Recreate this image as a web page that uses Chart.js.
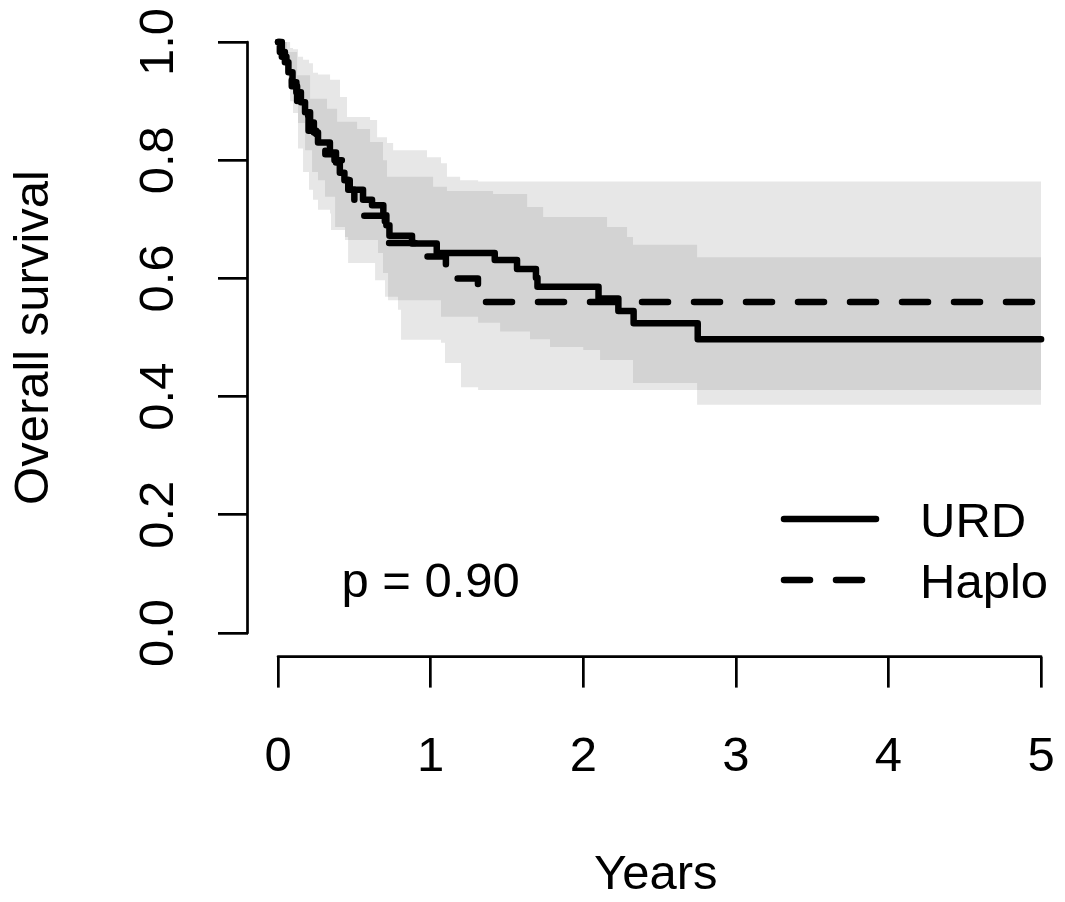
<!DOCTYPE html>
<html>
<head>
<meta charset="utf-8">
<title>Overall survival</title>
<script src="https://cdn.jsdelivr.net/npm/chart.js@4.4.1/dist/chart.umd.min.js"></script>
<style>
  html, body { margin: 0; padding: 0; background: #fff; overflow: hidden; }
</style>
</head>
<body>
<canvas id="survival" width="1065" height="902"></canvas>
<script>
// Kaplan-Meier estimates: time in years, survival after each step
const urdTime = [0, 0.012, 0.045, 0.068, 0.095, 0.12, 0.15, 0.177, 0.21, 0.235, 0.262, 0.34, 0.38, 0.405, 0.435, 0.47, 0.557, 0.616, 0.69, 0.71, 0.73, 0.878, 1.04, 1.42, 1.566, 1.69, 1.70, 2.10, 2.23, 2.33, 2.75, 5];
const urdSurv = [1, 0.983, 0.966, 0.949, 0.932, 0.915, 0.898, 0.881, 0.864, 0.847, 0.830, 0.813, 0.796, 0.779, 0.766, 0.750, 0.733, 0.724, 0.707, 0.690, 0.672, 0.659, 0.643, 0.631, 0.616, 0.601, 0.586, 0.566, 0.545, 0.524, 0.497, 0.497];

const haploTime = [0, 0.025, 0.055, 0.09, 0.125, 0.16, 0.20, 0.25, 0.31, 0.37, 0.42, 0.46, 0.50, 0.525, 0.70, 0.725, 0.915, 1.10, 1.31, 5];
const haploSurv = [1, 0.975, 0.95, 0.925, 0.90, 0.875, 0.85, 0.825, 0.81, 0.80, 0.775, 0.75, 0.728, 0.706, 0.683, 0.660, 0.637, 0.600, 0.560, 0.560];

// pointwise 95% confidence limits
const urdCiTime = [0, 0.013, 0.059, 0.066, 0.125, 0.131, 0.177, 0.210, 0.223, 0.262, 0.308, 0.321, 0.374, 0.387, 0.439, 0.518, 0.603, 0.655, 0.688, 0.714, 0.721, 1.016, 1.068, 1.107, 1.311, 1.409, 1.455, 1.632, 1.651, 1.737, 1.782, 2.0, 2.110, 2.156, 2.287, 2.326, 2.746, 5];
const urdUpper = [1, 1, 0.983, 0.983, 0.944, 0.944, 0.944, 0.904, 0.904, 0.904, 0.904, 0.887, 0.887, 0.865, 0.865, 0.853, 0.831, 0.831, 0.80, 0.772, 0.772, 0.755, 0.755, 0.748, 0.748, 0.743, 0.743, 0.721, 0.721, 0.704, 0.704, 0.704, 0.704, 0.687, 0.670, 0.657, 0.636, 0.636];
const urdLower = [1, 0.98, 0.98, 0.93, 0.93, 0.863, 0.817, 0.817, 0.78, 0.766, 0.738, 0.738, 0.687, 0.687, 0.665, 0.665, 0.665, 0.643, 0.609, 0.609, 0.563, 0.563, 0.535, 0.535, 0.525, 0.525, 0.51, 0.51, 0.497, 0.497, 0.484, 0.479, 0.462, 0.462, 0.462, 0.423, 0.386, 0.386];

const haploCiTime = [0, 0.013, 0.046, 0.079, 0.098, 0.131, 0.164, 0.203, 0.229, 0.262, 0.341, 0.347, 0.406, 0.439, 0.452, 0.459, 0.603, 0.636, 0.649, 0.701, 0.714, 0.754, 0.786, 0.806, 0.976, 1.068, 1.094, 1.107, 1.193, 1.199, 1.311, 5];
const haploUpper = [1, 1, 1, 0.99, 0.988, 0.975, 0.97, 0.964, 0.948, 0.945, 0.936, 0.936, 0.907, 0.907, 0.873, 0.873, 0.868, 0.868, 0.839, 0.839, 0.829, 0.817, 0.817, 0.817, 0.805, 0.795, 0.795, 0.772, 0.766, 0.766, 0.764, 0.764];
const haploLower = [1, 0.98, 0.95, 0.90, 0.88, 0.82, 0.78, 0.75, 0.733, 0.716, 0.71, 0.682, 0.682, 0.670, 0.670, 0.626, 0.626, 0.597, 0.597, 0.569, 0.569, 0.569, 0.547, 0.496, 0.496, 0.491, 0.457, 0.457, 0.457, 0.416, 0.411, 0.411];

const xTicks = [0, 1, 2, 3, 4, 5];
const yTicks = [0, 0.2, 0.4, 0.6, 0.8, 1.0];
const groupNames = ['URD', 'Haplo'];
const pLabel = 'p = 0.90';
const pAt = [1, 0.09];

const FONT = '"Liberation Sans", Arial, Helvetica, sans-serif';
const BAND = 'rgba(120,120,120,0.175)';
const LW = 6.5;
const DASH = [26, 26];

Chart.defaults.font.family = FONT;
Chart.defaults.color = '#000';

function pts(xs, ys) {
  return xs.map((t, i) => ({ x: t, y: ys[i] }));
}

function curve(label, xs, ys, dash) {
  return {
    label: label,
    data: pts(xs, ys),
    stepped: true,
    borderColor: '#000',
    borderWidth: LW,
    borderDash: dash,
    borderCapStyle: 'round',
    borderJoinStyle: 'round',
    pointRadius: 0,
    fill: false,
    order: 0
  };
}

function bandEdge(label, xs, ys, fill) {
  return {
    label: label,
    data: pts(xs, ys),
    stepped: true,
    borderColor: 'rgba(0,0,0,0)',
    borderWidth: 0,
    backgroundColor: BAND,
    pointRadius: 0,
    fill: fill,
    order: 1
  };
}

// axis lines from first to last tick, legend and test label
const overlay = {
  id: 'overlay',
  afterDraw(chart) {
    const { ctx, chartArea, scales } = chart;
    const x = scales.x, y = scales.y;
    ctx.save();
    ctx.strokeStyle = '#000';
    ctx.lineWidth = 2.7;
    ctx.lineCap = 'round';
    ctx.beginPath();
    ctx.moveTo(chartArea.left, y.getPixelForValue(yTicks[0]));
    ctx.lineTo(chartArea.left, y.getPixelForValue(yTicks[yTicks.length - 1]));
    ctx.moveTo(x.getPixelForValue(xTicks[0]), chartArea.bottom);
    ctx.lineTo(x.getPixelForValue(xTicks[xTicks.length - 1]), chartArea.bottom);
    ctx.stroke();

    // legend
    ctx.lineWidth = LW;
    const rows = [519, 580];
    rows.forEach((ry, i) => {
      ctx.setLineDash(i === 0 ? [] : DASH);
      ctx.beginPath();
      ctx.moveTo(784, ry);
      ctx.lineTo(876, ry);
      ctx.stroke();
    });
    ctx.setLineDash([]);
    ctx.fillStyle = '#000';
    ctx.font = '49px ' + FONT;
    ctx.textAlign = 'left';
    ctx.textBaseline = 'alphabetic';
    rows.forEach((ry, i) => ctx.fillText(groupNames[i], 920, ry + 17.5));

    ctx.textAlign = 'center';
    ctx.fillText(pLabel, x.getPixelForValue(pAt[0]), y.getPixelForValue(pAt[1]) + 17.5);
    ctx.restore();
  }
};

new Chart(document.getElementById('survival'), {
  type: 'line',
  data: {
    datasets: [
      curve(groupNames[0], urdTime, urdSurv, []),
      curve(groupNames[1], haploTime, haploSurv, DASH),
      bandEdge('Haplo upper', haploCiTime, haploUpper, '+1'),
      bandEdge('Haplo lower', haploCiTime, haploLower, false),
      bandEdge('URD upper', urdCiTime, urdUpper, '+1'),
      bandEdge('URD lower', urdCiTime, urdLower, false)
    ]
  },
  options: {
    responsive: false,
    animation: false,
    events: [],
    layout: { autoPadding: false, padding: { top: 18.4, right: 1, left: 0, bottom: 0 } },
    plugins: { legend: { display: false }, tooltip: { enabled: false } },
    scales: {
      x: {
        type: 'linear',
        min: -0.2,
        max: 5.15,
        border: { display: false },
        grid: { drawOnChartArea: false, drawTicks: true, tickLength: 31, color: '#000', lineWidth: 2.7 },
        afterBuildTicks: axis => { axis.ticks = xTicks.map(v => ({ value: v })); },
        afterFit: axis => { axis.height = 245.4; axis.paddingLeft = 0; axis.paddingRight = 0; },
        ticks: {
          autoSkip: false, maxRotation: 0, minRotation: 0, padding: 40,
          font: { size: 49 }, color: '#000',
          callback: v => String(v)
        },
        title: { display: true, text: 'Years', font: { size: 49, lineHeight: 1 }, color: '#000', padding: { top: 0, bottom: 2.5 } }
      },
      y: {
        type: 'linear',
        min: -0.04,
        max: 1.04,
        border: { display: false },
        grid: { drawOnChartArea: false, drawTicks: true, tickLength: 29.5, color: '#000', lineWidth: 2.7 },
        afterBuildTicks: axis => { axis.ticks = yTicks.map(v => ({ value: v })); },
        afterFit: axis => { axis.width = 247.5; axis.paddingTop = 0; axis.paddingBottom = 0; },
        ticks: {
          autoSkip: false, minRotation: 90, maxRotation: 90, crossAlign: 'center', padding: 24,
          font: { size: 49 }, color: '#000',
          callback: v => v.toFixed(1)
        },
        title: { display: true, text: 'Overall survival', font: { size: 49, lineHeight: 1 }, color: '#000', padding: { top: 10.2, bottom: 0 } }
      }
    }
  },
  plugins: [overlay]
});
</script>
</body>
</html>
